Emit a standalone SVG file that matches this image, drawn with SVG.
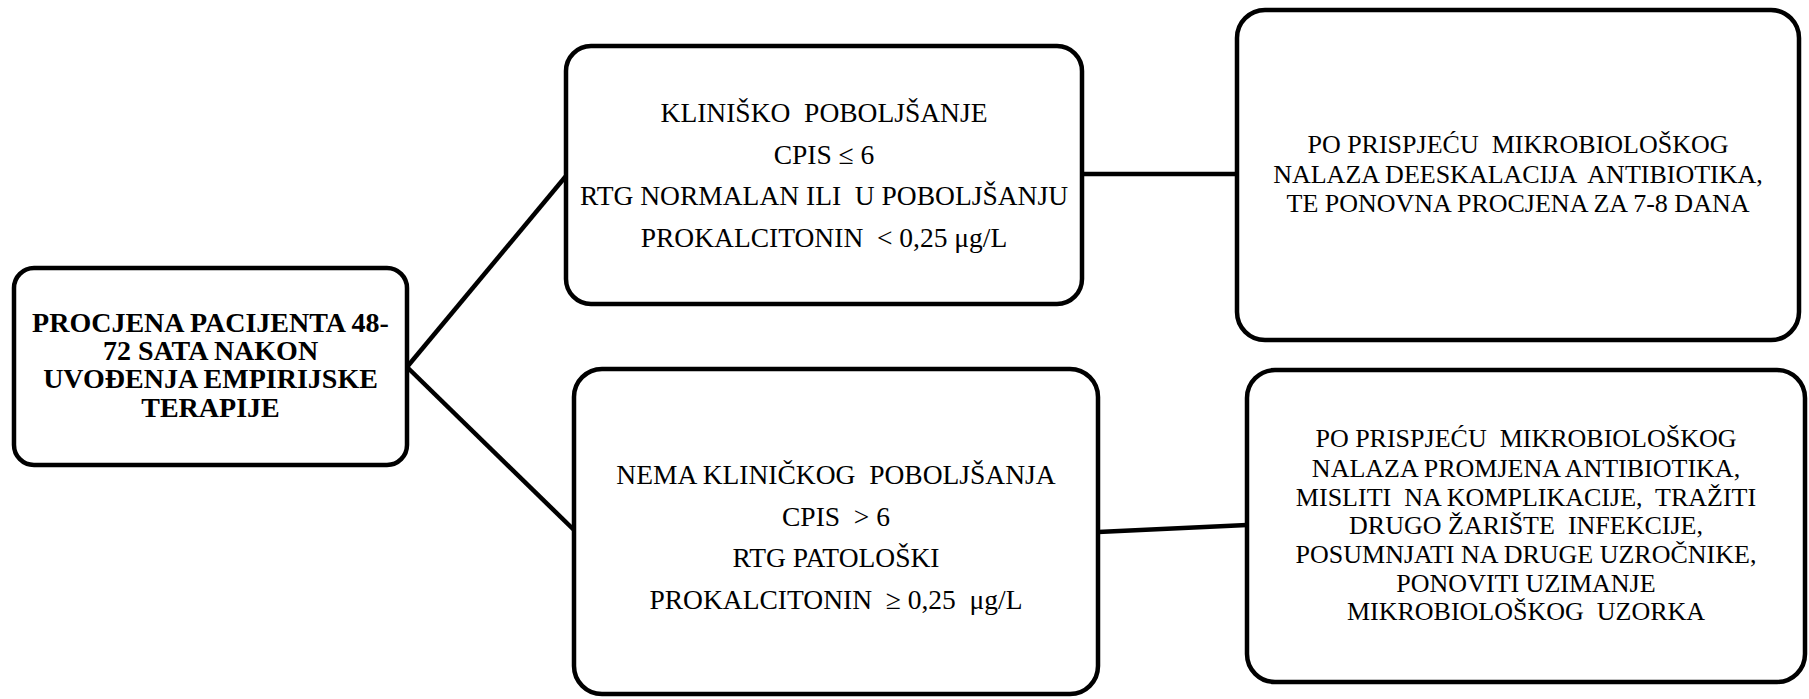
<svg xmlns="http://www.w3.org/2000/svg" width="1809" height="699" viewBox="0 0 1809 699">
<style>
.box{fill:#fff;stroke:#000;stroke-width:4.5}
.conn{stroke:#000;stroke-width:4.5;fill:none}
.t{font-size:26px;fill:#000;text-anchor:middle;white-space:pre}
.l{font-size:27.5px}
.b{font-weight:bold;font-size:28px}
</style>
<rect width="1809" height="699" fill="#fff"/>
<g id="connectors">
<line class="conn" x1="407" y1="367" x2="566" y2="176"/>
<line class="conn" x1="407" y1="367" x2="574" y2="530"/>
<line class="conn" x1="1082" y1="174" x2="1237" y2="174"/>
<line class="conn" x1="1098" y1="532" x2="1247" y2="525"/>
</g>
<g font-family="Liberation Serif, DejaVu Serif, serif">
<g id="n1">
<rect class="box" x="14" y="268" width="393" height="197" rx="20"/>
<text class="t b" x="210.5" y="332">PROCJENA PACIJENTA 48-</text>
<text class="t b" x="210.5" y="360">72 SATA NAKON</text>
<text class="t b" x="210.5" y="388">UVOĐENJA EMPIRIJSKE</text>
<text class="t b" x="210.5" y="417">TERAPIJE</text>
</g>
<g id="n2">
<rect class="box" x="566" y="46" width="516" height="258" rx="25"/>
<text class="t l" x="824" y="122">KLINIŠKO  POBOLJŠANJE</text>
<text class="t l" x="824" y="164">CPIS ≤ 6</text>
<text class="t l" x="824" y="205">RTG NORMALAN ILI  U POBOLJŠANJU</text>
<text class="t l" x="824" y="247">PROKALCITONIN  &lt; 0,25 μg/L</text>
</g>
<g id="n3">
<rect class="box" x="1237" y="10" width="562" height="330" rx="28"/>
<text class="t" x="1518" y="153">PO PRISPJEĆU  MIKROBIOLOŠKOG</text>
<text class="t" x="1518" y="183">NALAZA DEESKALACIJA  ANTIBIOTIKA,</text>
<text class="t" x="1518" y="212">TE PONOVNA PROCJENA ZA 7-8 DANA</text>
</g>
<g id="n4">
<rect class="box" x="574" y="369" width="524" height="325" rx="28"/>
<text class="t l" x="836" y="484">NEMA KLINIČKOG  POBOLJŠANJA</text>
<text class="t l" x="836" y="526">CPIS  &gt; 6</text>
<text class="t l" x="836" y="567">RTG PATOLOŠKI</text>
<text class="t l" x="836" y="609">PROKALCITONIN  ≥ 0,25  μg/L</text>
</g>
<g id="n5">
<rect class="box" x="1247" y="370" width="558" height="312" rx="28"/>
<text class="t" x="1526" y="447">PO PRISPJEĆU  MIKROBIOLOŠKOG</text>
<text class="t" x="1526" y="477">NALAZA PROMJENA ANTIBIOTIKA,</text>
<text class="t" x="1526" y="506">MISLITI  NA KOMPLIKACIJE,  TRAŽITI</text>
<text class="t" x="1526" y="534">DRUGO ŽARIŠTE  INFEKCIJE,</text>
<text class="t" x="1526" y="563">POSUMNJATI NA DRUGE UZROČNIKE,</text>
<text class="t" x="1526" y="592">PONOVITI UZIMANJE</text>
<text class="t" x="1526" y="620">MIKROBIOLOŠKOG  UZORKA</text>
</g>
</g>
</svg>
